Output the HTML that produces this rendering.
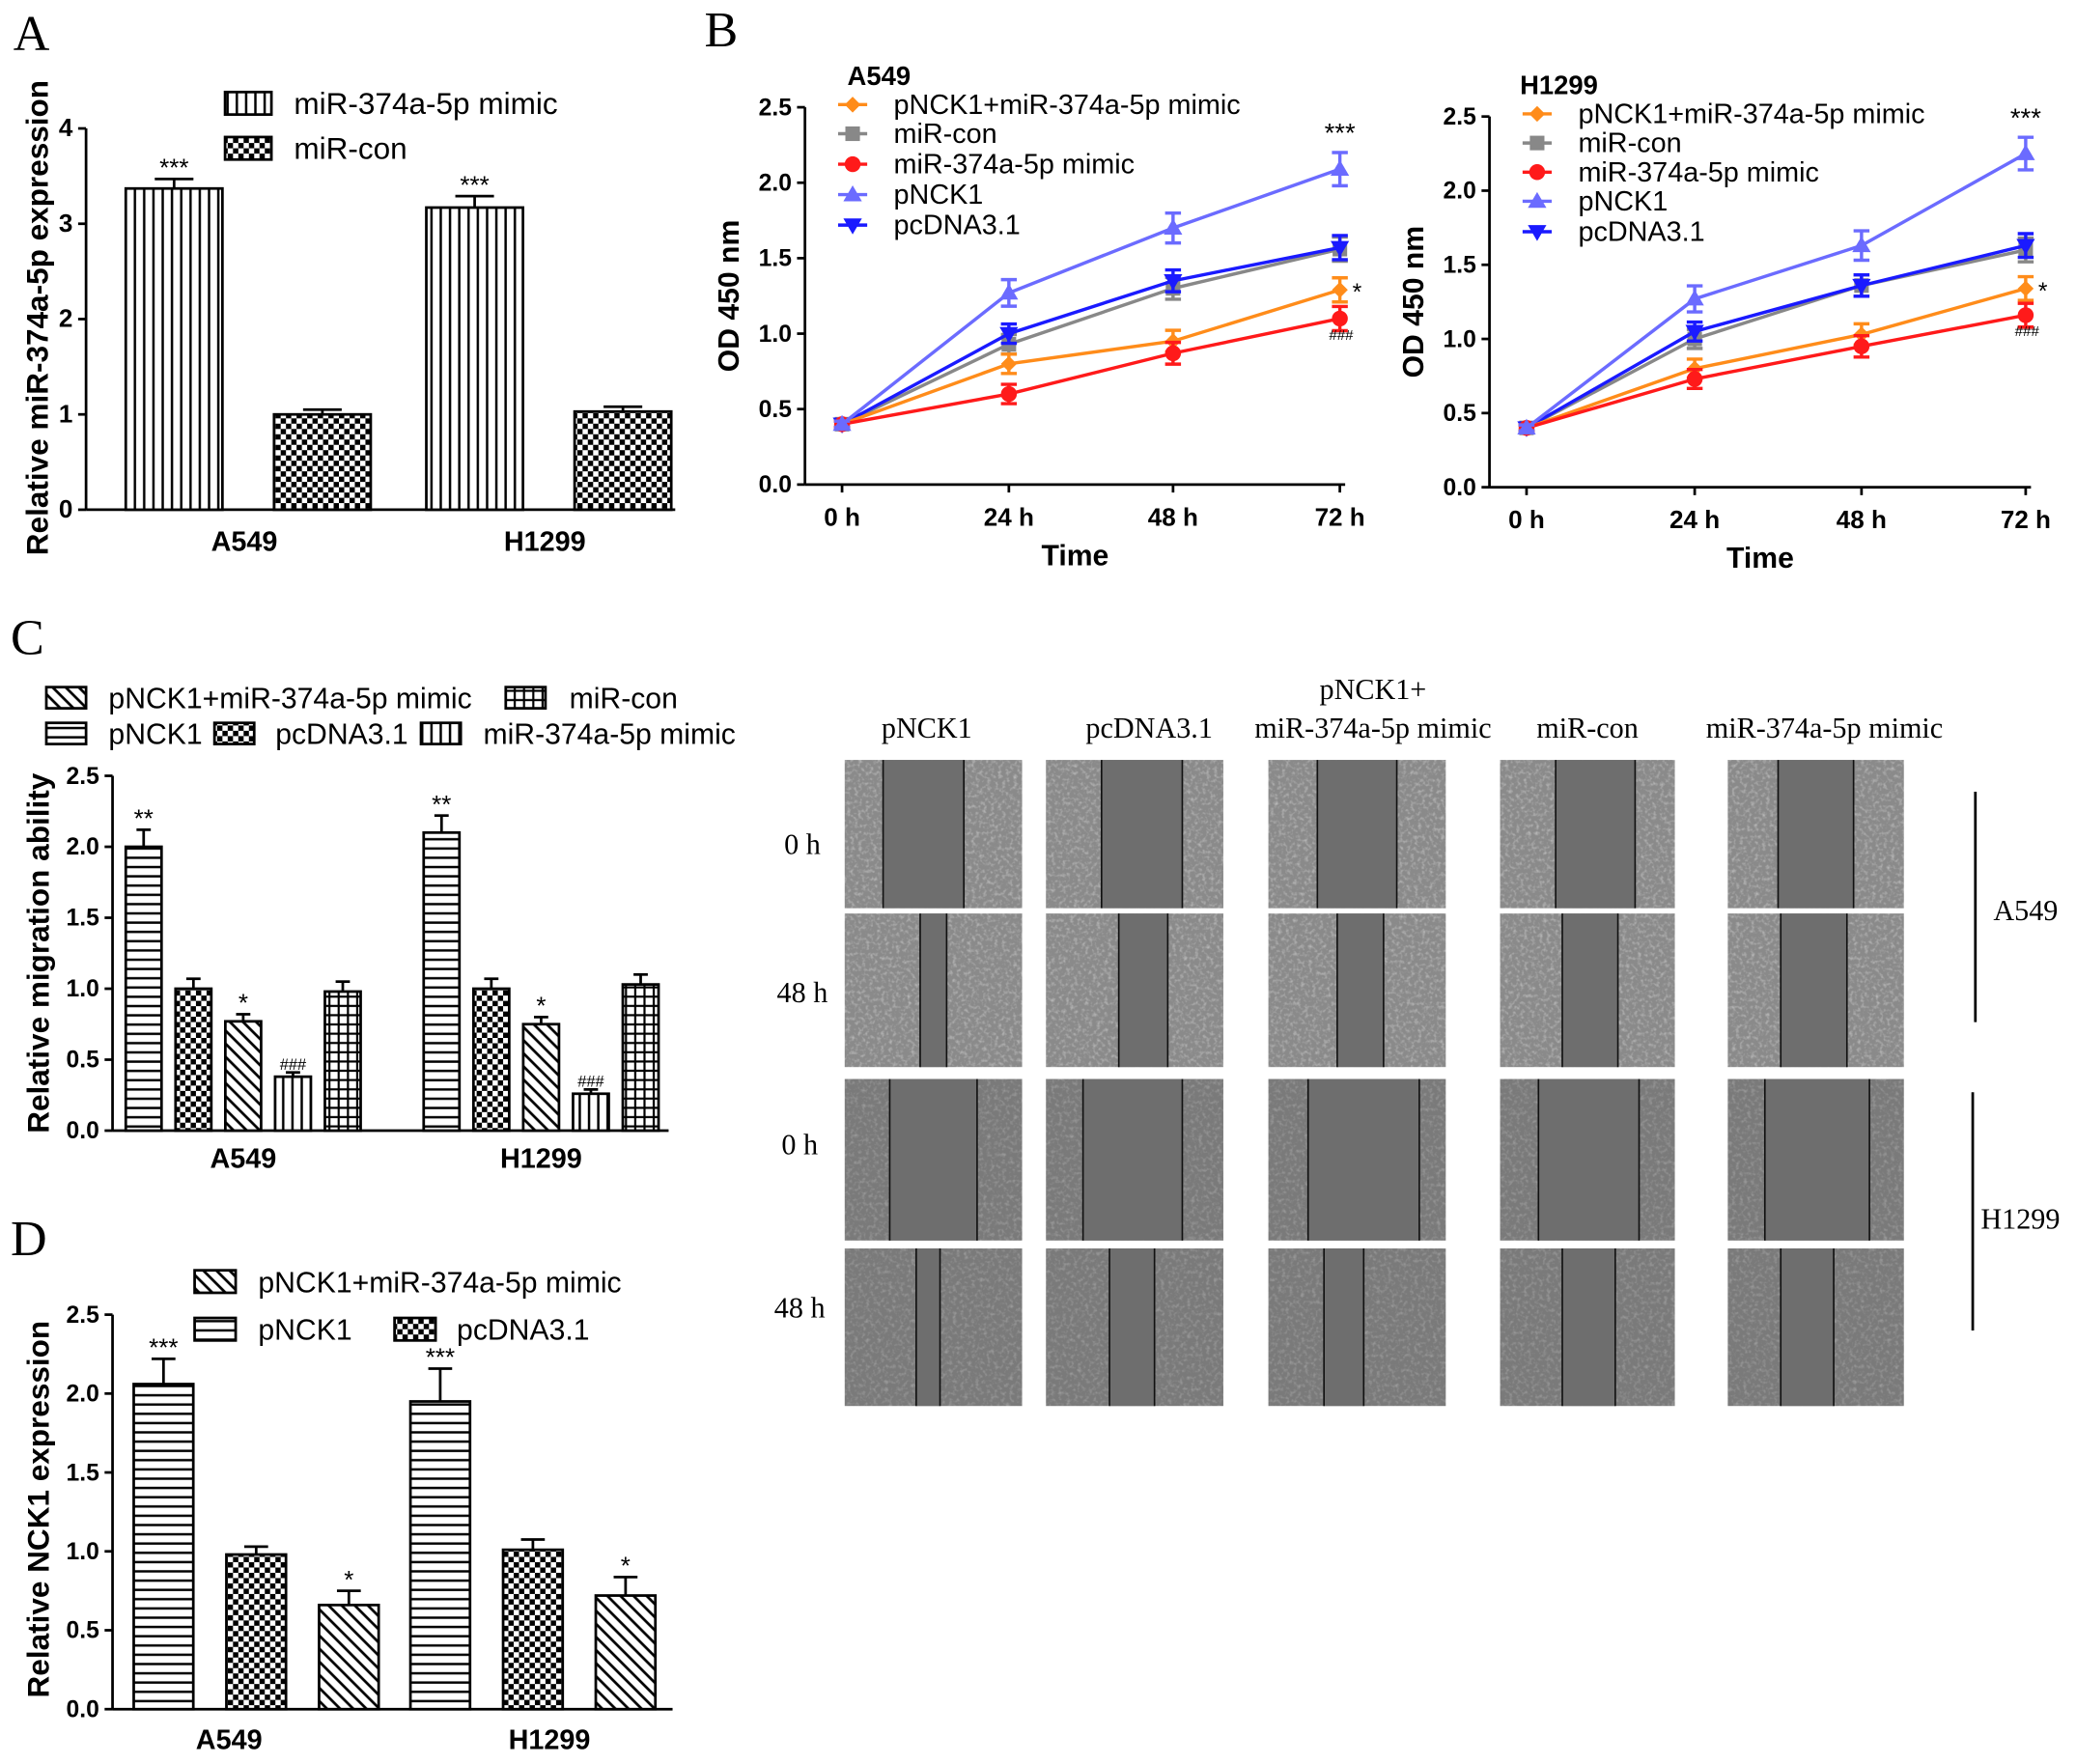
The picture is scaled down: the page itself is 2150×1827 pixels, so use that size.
<!DOCTYPE html>
<html><head><meta charset="utf-8">
<style>
html,body{margin:0;padding:0;background:#fff;}
svg{display:block;}
text{font-family:"Liberation Sans",sans-serif;}
.serif{font-family:"Liberation Serif",serif;}
</style></head>
<body>
<svg id="fig" width="2150" height="1827" viewBox="0 0 1568 1332.4" xmlns="http://www.w3.org/2000/svg">
<defs>
<pattern id="p-vert" width="7" height="7" patternUnits="userSpaceOnUse"><rect width="7" height="7" fill="#fff"/><rect x="3" width="1.8" height="7" fill="#000"/></pattern>
<pattern id="p-horiz" width="7" height="7" patternUnits="userSpaceOnUse"><rect width="7" height="7" fill="#fff"/><rect y="3" width="7" height="1.8" fill="#000"/></pattern>
<pattern id="p-check" width="8" height="8" patternUnits="userSpaceOnUse"><rect width="8" height="8" fill="#fff"/><rect width="4" height="4" fill="#000"/><rect x="4" y="4" width="4" height="4" fill="#000"/></pattern>
<pattern id="p-diag" width="7" height="7" patternUnits="userSpaceOnUse" patternTransform="rotate(-45)"><rect width="7" height="7" fill="#fff"/><rect x="3" width="2" height="7" fill="#000"/></pattern>
<pattern id="p-grid" width="7" height="7" patternUnits="userSpaceOnUse"><rect width="7" height="7" fill="#fff"/><rect x="3" width="1.6" height="7" fill="#000"/><rect y="3" width="7" height="1.6" fill="#000"/></pattern>
<filter id="noise" x="0" y="0" width="100%" height="100%"><feTurbulence type="fractalNoise" baseFrequency="0.35" numOctaves="2" seed="3"/><feColorMatrix type="matrix" values="0 0 0 0 1  0 0 0 0 1  0 0 0 0 1  0 0 0 1.6 -0.75"/></filter>
</defs>
<g id="root"></g>
</svg>
<script>
// ---------- DATA ----------
const aCats = ["A549","H1299"];
const aMimic = [3.37,3.17];
const aMimicErr = [0.1,0.12];
const aCon = [1.0,1.03];
const aConErr = [0.05,0.05];

const bTimes = ["0 h","24 h","48 h","72 h"];
const bSeriesNames = ["pNCK1+miR-374a-5p mimic","miR-con","miR-374a-5p mimic","pNCK1","pcDNA3.1"];
const bA549Combo = [0.4,0.8,0.95,1.29];
const bA549Con = [0.4,0.93,1.3,1.56];
const bA549Mimic = [0.4,0.6,0.87,1.1];
const bA549PNCK1 = [0.4,1.27,1.7,2.09];
const bA549Pc = [0.4,1.0,1.35,1.57];
const bH1299Combo = [0.4,0.8,1.03,1.34];
const bH1299Con = [0.4,1.0,1.36,1.6];
const bH1299Mimic = [0.4,0.73,0.95,1.16];
const bH1299PNCK1 = [0.4,1.27,1.63,2.25];
const bH1299Pc = [0.4,1.05,1.36,1.63];
const bErr = [0.03,0.08,0.09,0.1];

const cGroups = ["pNCK1","pcDNA3.1","pNCK1+miR-374a-5p mimic","miR-374a-5p mimic","miR-con"];
const cA549 = [2.0,1.0,0.77,0.38,0.98];
const cH1299 = [2.1,1.0,0.75,0.26,1.03];
const cErr = [0.12,0.07,0.05,0.03,0.07];
const cMarks = ["**","","*","###",""];

const dGroups = ["pNCK1","pcDNA3.1","pNCK1+miR-374a-5p mimic"];
const dA549 = [2.06,0.98,0.66];
const dH1299 = [1.95,1.01,0.72];
const dErr = [0.16,0.05,0.09];
const dMarks = ["***","","*"];

const yTicks25 = ["0.0","0.5","1.0","1.5","2.0","2.5"];
const yTicks4 = ["0","1","2","3","4"];

// ---------- HELPERS ----------
const NS="http://www.w3.org/2000/svg";
const root=document.getElementById('root');
function el(tag,attrs,parent,txt){const e=document.createElementNS(NS,tag);for(const k in attrs)e.setAttribute(k,attrs[k]);if(txt!==undefined)e.textContent=txt;(parent||root).appendChild(e);return e;}
function grp(name,parent){const g=el('g',{},parent);


return g;}
function txt(x,y,s,size,opts,parent){const t=el('text',Object.assign({x:x,y:y,'font-size':size,'text-anchor':'middle'},opts||{}),parent,s);return t;}
function scale(v0,v1,p0,p1){return v=>p0+(v-v0)/(v1-v0)*(p1-p0);}

function yAxis(g,x,y0,yTop,ticks,vmax,size){
  const ys=scale(0,vmax,y0,yTop);
  el('line',{x1:x,y1:y0,x2:x,y2:yTop,stroke:'#000','stroke-width':2},g);
  ticks.forEach(t=>{const y=ys(parseFloat(t));el('line',{x1:x-6,y1:y,x2:x,y2:y,stroke:'#000','stroke-width':2},g);
    txt(x-10,y+6,t,size||18,{'text-anchor':'end','font-weight':'bold'},g);});
  return ys;
}
function bar(g,x,w,v,err,ys,fill,name,mark){
  const b=el('rect',{x:x,y:ys(v),width:w,height:ys(0)-ys(v),fill:fill,stroke:'#000','stroke-width':2},g);
  
  
  const cx=x+w/2, yt=ys(v+err);
  el('line',{x1:cx,y1:ys(v),x2:cx,y2:yt,stroke:'#000','stroke-width':2},g);
  el('line',{x1:cx-w*0.2,y1:yt,x2:cx+w*0.2,y2:yt,stroke:'#000','stroke-width':2},g);
  if(mark) txt(cx,yt-2,mark,mark==='###'?12:19,{},g);
}
function legendBox(g,x,y,w,h,fill,label,tx,size){
  const r=el('rect',{x:x,y:y-h/2,width:w,height:h,fill:fill,stroke:'#000','stroke-width':2},g);
  
  
  txt(tx,y+8,label,size||22,{'text-anchor':'start'},g);
}

// ---------- PANEL LETTERS ----------
[["A",10,38],["B",532,35],["C",8,494],["D",8,948]].forEach(p=>{const t=txt(p[1],p[2],p[0],38,{'text-anchor':'start',class:'serif'});

});

// ---------- PANEL A ----------
(function(){
  const g=grp('panel-a-bar-chart');
  const ys=yAxis(g,65,385,97,yTicks4,4,19);
  el('line',{x1:65,y1:385,x2:510,y2:385,stroke:'#000','stroke-width':2},g);
  const groupX=[95,322], w=73, gap=112;
  aCats.forEach((c,i)=>{
    bar(g,groupX[i],w,aMimic[i],aMimicErr[i],ys,'url(#p-vert)','bar-mimic-'+c.toLowerCase(),'***');
    bar(g,groupX[i]+gap,w,aCon[i],aConErr[i],ys,'url(#p-check)','bar-con-'+c.toLowerCase(),'');
    txt(groupX[i]+(w+gap)/2-3,416,c,21,{'font-weight':'bold'},g);
  });
  txt(36,240,'Relative miR-374a-5p expression',23,{'font-weight':'bold',transform:'rotate(-90 36 240)'},g);
  const lg=grp('panel-a-legend',g);
  legendBox(lg,170,78,35,17,'url(#p-vert)','miR-374a-5p mimic',222,23);
  legendBox(lg,170,112,35,17,'url(#p-check)','miR-con',222,23);
})();

// ---------- PANEL B ----------
const bColors=['#ff8c1a','#888888','#ff1a1a','#6b6bff','#1a1aff'];
function lineChart(name,title,ax,y0,yTop,xs,tx0,data,legY,legTx){
  const g=grp(name);
  const ys=yAxis(g,ax,y0,yTop,yTicks25,2.5,18);
  el('line',{x1:ax,y1:y0,x2:xs[3]+4,y2:y0,stroke:'#000','stroke-width':2},g);
  bTimes.forEach((t,i)=>{el('line',{x1:xs[i],y1:y0,x2:xs[i],y2:y0+6,stroke:'#000','stroke-width':2},g);txt(xs[i],y0+31,t,19,{'font-weight':'bold'},g);});
  txt((xs[0]+xs[3])/2-12,y0+61,'Time',22,{'font-weight':'bold'},g);
  txt(ax-50,(y0+yTop)/2,'OD 450 nm',22,{'font-weight':'bold',transform:'rotate(-90 '+(ax-50)+' '+((y0+yTop)/2)+')'},g);
  txt(tx0,yTop-17,title,20,{'font-weight':'bold','text-anchor':'start'},g);
  const order=[1,4,0,2,3];
  order.forEach(si=>{
    const vals=data[si], col=bColors[si];
    const sg=grp('series-'+bSeriesNames[si].toLowerCase().replace(/[^a-z0-9]+/g,'-'),g);
    const pts=vals.map((v,i)=>xs[i]+','+ys(v)).join(' ');
    el('polyline',{points:pts,fill:'none',stroke:col,'stroke-width':2.5},sg);
    vals.forEach((v,i)=>{
      const e=i===0?0.02:bErr[i]*(si===3?1.1:0.8);
      el('line',{x1:xs[i],y1:ys(v-e),x2:xs[i],y2:ys(v+e),stroke:col,'stroke-width':2.5},sg);
      el('line',{x1:xs[i]-6,y1:ys(v+e),x2:xs[i]+6,y2:ys(v+e),stroke:col,'stroke-width':2.5},sg);
      el('line',{x1:xs[i]-6,y1:ys(v-e),x2:xs[i]+6,y2:ys(v-e),stroke:col,'stroke-width':2.5},sg);
      marker(sg,si,xs[i],ys(v),col);
    });
  });
  txt(xs[3],ys(data[3][3]+0.18),'***',20,{},g);
  txt(xs[3]+13,ys(data[0][3])+8,'*',18,{},g);
  txt(xs[3]+1,ys(data[2][3]-0.14),'###',11,{},g);
  const lg=grp(name+'-legend',g);
  bSeriesNames.forEach((n,i)=>{const y=legY[i];const lx=legTx-42;
    el('line',{x1:lx,y1:y,x2:lx+22,y2:y,stroke:bColors[i],'stroke-width':2.5},lg);
    marker(lg,i,lx+11,y,bColors[i]);
    txt(legTx,y+7,n,21,{'text-anchor':'start'},lg);});
}
function marker(g,si,x,y,col){
  if(si===0) el('polygon',{points:`${x},${y-6} ${x+6},${y} ${x},${y+6} ${x-6},${y}`,fill:col},g);
  else if(si===1) el('rect',{x:x-5.5,y:y-5.5,width:11,height:11,fill:col},g);
  else if(si===2) el('circle',{cx:x,cy:y,r:6,fill:col},g);
  else if(si===3) el('polygon',{points:`${x},${y-7} ${x+7},${y+5} ${x-7},${y+5}`,fill:col},g);
  else el('polygon',{points:`${x},${y+7} ${x+7},${y-5} ${x-7},${y-5}`,fill:col},g);
}
lineChart('panel-b-a549-line-chart','A549',608,366,81,[636,762,886,1012],640,
  [bA549Combo,bA549Con,bA549Mimic,bA549PNCK1,bA549Pc],[79,101,124,147,170],675);
lineChart('panel-b-h1299-line-chart','H1299',1125,368,88,[1153,1280,1406,1530],1148,
  [bH1299Combo,bH1299Con,bH1299Mimic,bH1299PNCK1,bH1299Pc],[86,108,130,152,175],1192);

// ---------- PANEL C ----------
const cFills=['url(#p-horiz)','url(#p-check)','url(#p-diag)','url(#p-vert)','url(#p-grid)'];
(function(){
  const g=grp('panel-c-bar-chart');
  const ys=yAxis(g,85,854,586,yTicks25,2.5,18);
  el('line',{x1:85,y1:854,x2:505,y2:854,stroke:'#000','stroke-width':2},g);
  const starts=[95,320], step=37.6, w=27;
  [cA549,cH1299].forEach((vals,gi)=>{
    vals.forEach((v,i)=>bar(g,starts[gi]+i*step,w,v,cErr[i],ys,cFills[i],'bar-'+aCats[gi].toLowerCase()+'-'+cGroups[i].toLowerCase().replace(/[^a-z0-9]+/g,'-'),cMarks[i]));
    txt(starts[gi]+2*step+w/2,882,aCats[gi],21,{'font-weight':'bold'},g);
  });
  txt(37,720,'Relative migration ability',23,{'font-weight':'bold',transform:'rotate(-90 37 720)'},g);
  const lg=grp('panel-c-legend',g);
  legendBox(lg,35,527,30,16,'url(#p-diag)','pNCK1+miR-374a-5p mimic',82);
  legendBox(lg,382,527,30,16,'url(#p-grid)','miR-con',430);
  legendBox(lg,35,554,30,16,'url(#p-horiz)','pNCK1',82);
  legendBox(lg,162,554,30,16,'url(#p-check)','pcDNA3.1',208);
  legendBox(lg,318,554,30,16,'url(#p-vert)','miR-374a-5p mimic',365);
})();

// ---------- PANEL D ----------
(function(){
  const g=grp('panel-d-bar-chart');
  const ys=yAxis(g,85,1291,993,yTicks25,2.5,18);
  el('line',{x1:85,y1:1291,x2:508,y2:1291,stroke:'#000','stroke-width':2},g);
  const fills=['url(#p-horiz)','url(#p-check)','url(#p-diag)'];
  const starts=[101,310], step=70, w=45;
  [dA549,dH1299].forEach((vals,gi)=>{
    vals.forEach((v,i)=>bar(g,starts[gi]+i*step,w,v,dErr[i]*(gi?1.3:1),ys,fills[i],'bar-'+aCats[gi].toLowerCase()+'-'+dGroups[i].toLowerCase().replace(/[^a-z0-9]+/g,'-'),dMarks[i]));
    txt(gi?415:173,1321,aCats[gi],21,{'font-weight':'bold'},g);
  });
  txt(37,1140,'Relative NCK1 expression',23,{'font-weight':'bold',transform:'rotate(-90 37 1140)'},g);
  const lg=grp('panel-d-legend',g);
  legendBox(lg,147,968,31,17,'url(#p-diag)','pNCK1+miR-374a-5p mimic',195);
  legendBox(lg,147,1004,31,17,'url(#p-horiz)','pNCK1',195);
  legendBox(lg,298,1004,31,17,'url(#p-check)','pcDNA3.1',345);
})();

// ---------- MICROGRAPHS ----------
(function(){
  const g=grp('wound-healing-micrographs');
  const colX=[[638,772],[790,924],[958,1092],[1133,1265],[1305,1438]];
  const rowY=[[574,686],[690,806],[815,937],[943,1062]];
  const gaps=[
    [[667,728],[832,893],[995,1055],[1175,1235],[1343,1400]],
    [[695,715],[845,882],[1010,1045],[1180,1222],[1345,1395]],
    [[672,738],[818,893],[988,1072],[1162,1238],[1333,1412]],
    [[692,710],[838,872],[1000,1030],[1180,1220],[1345,1385]]];
  rowY.forEach((ry,r)=>colX.forEach((cx,c)=>{
    const ig=grp('micrograph-r'+(r+1)+'-c'+(c+1),g);
    const w=cx[1]-cx[0],h=ry[1]-ry[0];
    el('rect',{x:cx[0],y:ry[0],width:w,height:h,fill:r<2?'#8a8a8a':'#7a7a7a'},ig);
    el('rect',{x:cx[0],y:ry[0],width:w,height:h,filter:'url(#noise)',opacity:r<2?0.55:0.35},ig);
    const gp=gaps[r][c];
    el('rect',{x:gp[0],y:ry[0],width:gp[1]-gp[0],height:h,fill:'#6e6e6e'},ig);
    el('line',{x1:gp[0],y1:ry[0],x2:gp[0],y2:ry[1],stroke:'#111','stroke-width':1.2},ig);
    el('line',{x1:gp[1],y1:ry[0],x2:gp[1],y2:ry[1],stroke:'#111','stroke-width':1.2},ig);
  }));
  const hdr=[[700,551,'pNCK1'],[868,551,'pcDNA3.1'],[1037,522,'pNCK1+'],[1037,551,'miR-374a-5p mimic'],[1199,551,'miR-con'],[1378,551,'miR-374a-5p mimic']];
  hdr.forEach(h=>txt(h[0],h[1]+6,h[2],22,{class:'serif'},g));
  [[606,638,'0 h'],[606,750,'48 h'],[604,865,'0 h'],[604,988,'48 h']].forEach(l=>txt(l[0],l[1]+7,l[2],22,{class:'serif'},g));
  el('line',{x1:1492,y1:598,x2:1492,y2:772,stroke:'#000','stroke-width':2},g);
  el('line',{x1:1490,y1:825,x2:1490,y2:1005,stroke:'#000','stroke-width':2},g);
  txt(1530,695,'A549',22,{class:'serif'},g);
  txt(1526,928,'H1299',22,{class:'serif'},g);
})();
</script>
</body></html>
